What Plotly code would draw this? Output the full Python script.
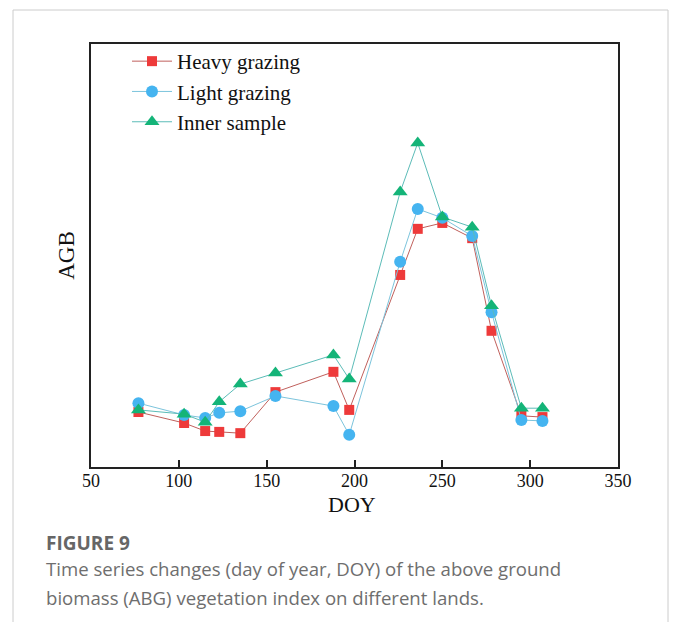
import plotly.graph_objects as go

doy = [77, 103, 115, 123, 135, 155, 188, 197, 226, 236, 250, 267, 278, 295, 307]
heavy = [0.130, 0.104, 0.085, 0.083, 0.080, 0.177, 0.225, 0.135, 0.454, 0.563, 0.577, 0.541, 0.322, 0.121, 0.118]
light = [0.151, 0.123, 0.116, 0.128, 0.132, 0.168, 0.144, 0.076, 0.485, 0.610, 0.589, 0.546, 0.366, 0.111, 0.109]
inner = [0.135, 0.125, 0.106, 0.154, 0.196, 0.222, 0.265, 0.208, 0.650, 0.766, 0.591, 0.567, 0.381, 0.139, 0.139]
x_ticks = [50, 100, 150, 200, 250, 300, 350]

W, H = 680, 622
L, R, T, B = 91, 618, 44, 467

def px(x):
    return (x - L) / (R - L)

def py(y):
    return (B - y) / (B - T)

fig = go.Figure()
fig.add_trace(go.Scatter(x=doy, y=heavy, name="Heavy grazing", mode="lines+markers",
                         line=dict(color="#c0605c", width=1),
                         marker=dict(symbol="square", size=10, color="#ee3a3a")))
fig.add_trace(go.Scatter(x=doy, y=light, name="Light grazing", mode="lines+markers",
                         line=dict(color="#7cc4dc", width=1),
                         marker=dict(symbol="circle", size=12, color="#45b4f0")))
fig.add_trace(go.Scatter(x=doy, y=inner, name="Inner sample", mode="lines+markers",
                         line=dict(color="#5cbcb8", width=1),
                         marker=dict(symbol="triangle-up", size=13, color="#14b478")))

serif = "Liberation Serif, Times New Roman, serif"
sans = "Open Sans, sans-serif"
fig.update_layout(
    width=W, height=H,
    margin=dict(l=L, r=W - R, t=T, b=H - B),
    paper_bgcolor="white", plot_bgcolor="white",
    showlegend=True,
    legend=dict(x=px(127), y=py(41), xanchor="left", yanchor="top",
                font=dict(family=serif, size=21, color="#111"),
                bgcolor="rgba(0,0,0,0)", tracegroupgap=0, itemwidth=40),
    xaxis=dict(range=[50, 350], tickvals=x_ticks, ticks="inside", ticklen=7,
               tickwidth=1.5, tickcolor="#222", ticklabelstandoff=-4,
               showline=True, linecolor="#222", linewidth=2, mirror=True,
               showgrid=False, zeroline=False,
               tickfont=dict(family=serif, size=18, color="#111")),
    yaxis=dict(range=[0, 1], showticklabels=False, ticks="",
               showline=True, linecolor="#222", linewidth=2, mirror=True,
               showgrid=False, zeroline=False,
               title=dict(text="AGB", font=dict(family=serif, size=23, color="#111"), standoff=8)),
    shapes=[
        dict(type="line", xref="paper", yref="paper", x0=px(13), x1=px(13), y0=py(10), y1=py(H + 5),
             line=dict(color="#cccccc", width=1)),
        dict(type="line", xref="paper", yref="paper", x0=px(668), x1=px(668), y0=py(10), y1=py(H + 5),
             line=dict(color="#cccccc", width=1)),
        dict(type="line", xref="paper", yref="paper", x0=px(13), x1=px(668), y0=py(10), y1=py(10),
             line=dict(color="#cccccc", width=1)),
    ],
    annotations=[
        dict(text="DOY", xref="paper", yref="paper", x=px(352), y=py(504),
             xanchor="center", yanchor="middle", showarrow=False,
             font=dict(family=serif, size=22, color="#111")),
        dict(text="<b>FIGURE 9</b>", xref="paper", yref="paper", x=px(44), y=py(543),
             xanchor="left", yanchor="middle", showarrow=False,
             font=dict(family=sans, size=19, color="#666666")),
        dict(text="Time series changes (day of year, DOY) of the above ground", xref="paper", yref="paper",
             x=px(44), y=py(568), xanchor="left", yanchor="middle", showarrow=False,
             font=dict(family=sans, size=18.6, color="#6e6e6e")),
        dict(text="biomass (ABG) vegetation index on different lands.", xref="paper", yref="paper",
             x=px(44), y=py(597), xanchor="left", yanchor="middle", showarrow=False,
             font=dict(family=sans, size=18.6, color="#6e6e6e")),
    ],
)

fig.write_html("out.html", config={"displayModeBar": False},
               post_script="document.body.style.margin='0';")
